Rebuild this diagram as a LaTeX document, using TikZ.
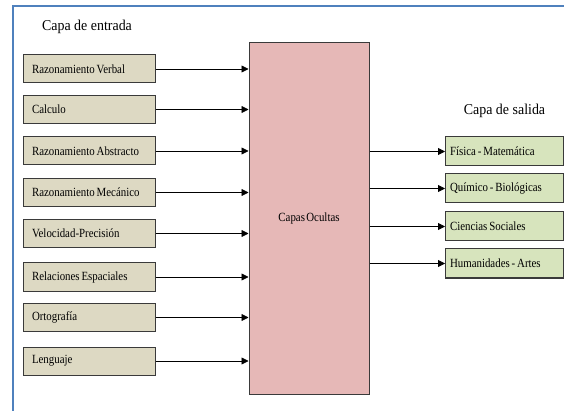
\documentclass[tikz,border=0pt]{standalone}
\usepackage{fontspec}
\setmainfont{Liberation Serif}
\newfontfamily\condfont{Liberation Serif}[FakeStretch=0.87,WordSpace=0.5]
\newfontfamily\titlefont{Liberation Serif}[FakeStretch=0.93]
\usetikzlibrary{arrows.meta}
\definecolor{framecol}{HTML}{4F81BD}
\definecolor{infill}{HTML}{DDD9C3}
\definecolor{hidfill}{HTML}{E6B8B7}
\definecolor{outfill}{HTML}{D7E4BD}
\definecolor{edgecol}{HTML}{3A3A3A}
\tikzset{
  boxtext/.style={font=\condfont\fontsize{12.5}{14}\selectfont},
  tightspace/.style={execute at begin node={\spaceskip=0.15em plus 0.05em\relax}},
  inbox/.style={boxtext, tightspace, draw=edgecol, line width=1pt, fill=infill, minimum height=28pt, text width=114pt, inner xsep=9pt, inner ysep=0pt, align=left, anchor=west},
  outbox/.style={boxtext, tightspace, draw=edgecol, line width=1pt, fill=outfill, minimum height=29pt, text width=109pt, inner xsep=4.5pt, inner ysep=0pt, align=left, anchor=west},
  hidbox/.style={boxtext, draw=edgecol, line width=1pt, fill=hidfill, minimum width=120pt, minimum height=351pt, inner sep=0pt},
  title/.style={font=\titlefont\fontsize{15}{17}\selectfont, inner sep=0pt},
  conn/.style={line width=0.8pt, -{Triangle[length=7pt,width=7pt]}}
}
\begin{document}
\begin{tikzpicture}[x=1pt,y=-1pt]
\useasboundingbox (0,0) rectangle (564,411);
\draw[framecol, line width=2.2pt] (13,411) -- (13,6) -- (564,6);
\node[title] (tin) at (87,27) {Capa de entrada};
\node[title] (tout) at (504.5,111) {Capa de salida};
\node[hidbox] (hid) at (309,218.5) {Capas Ocultas};
\node[inbox] (in1) at (22.5,69) {Razonamiento Verbal};
\node[inbox] (in2) at (22.5,109.5) {Calculo};
\node[inbox] (in3) at (22.5,151) {Razonamiento Abstracto};
\node[inbox] (in4) at (22.5,192.5) {Razonamiento Mecánico};
\node[inbox] (in5) at (22.5,233.5) {Velocidad-Precisión};
\node[inbox] (in6) at (22.5,277) {Relaciones Espaciales};
\node[inbox] (in7) at (22.5,317.5) {Ortografía};
\node[inbox] (in8) at (22.5,361) {Lenguaje};
\node[outbox] (out1) at (445,151.5) {Física - Matemática};
\node[outbox] (out2) at (445,188.5) {Químico - Biológicas};
\node[outbox] (out3) at (445,226.5) {Ciencias Sociales};
\node[outbox] (out4) at (445,263.5) {Humanidades - Artes};
\foreach \i in {1,...,8} {
  \draw[conn] (in\i.east) -- (in\i.east -| hid.west);
}
\foreach \i in {1,...,4} {
  \draw[conn] (out\i.west -| hid.east) -- (out\i.west);
}
\end{tikzpicture}
\end{document}
